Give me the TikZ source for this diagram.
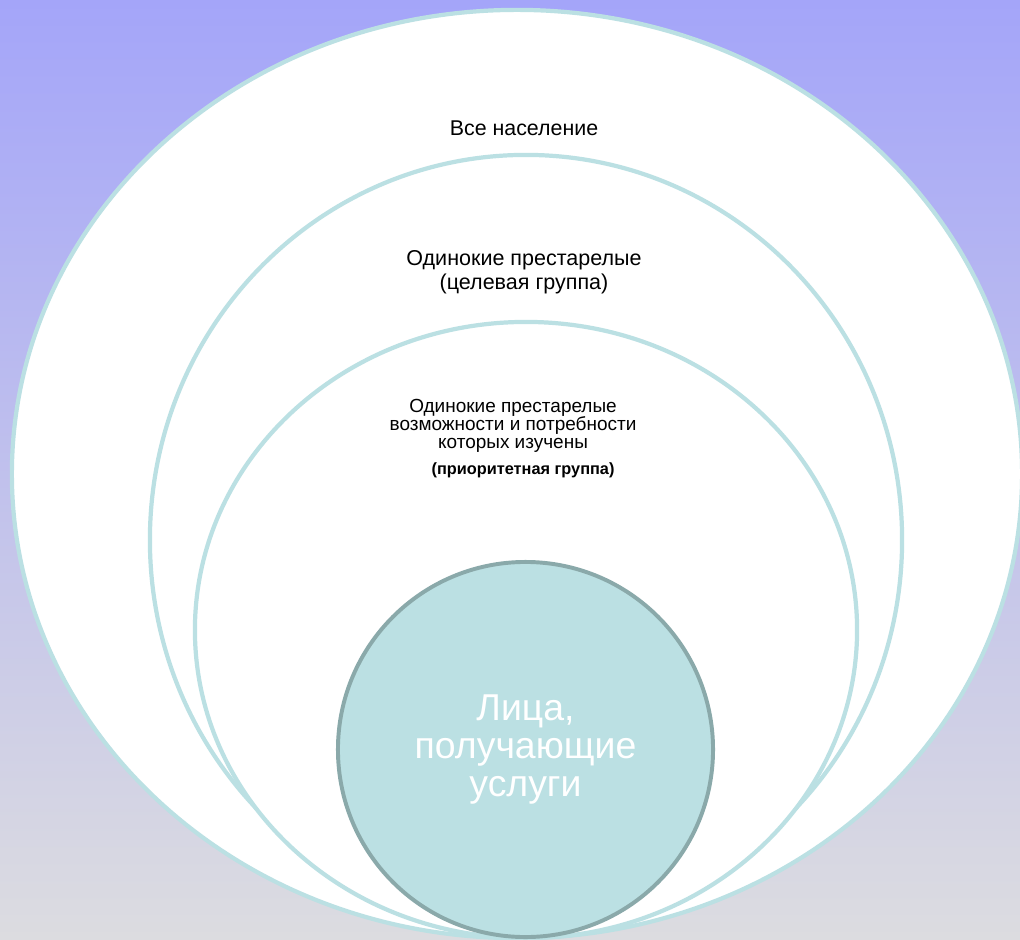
\documentclass[tikz,border=0pt]{standalone}
\usepackage{fontspec}
\setmainfont{Liberation Sans}
\usetikzlibrary{shapes.geometric}

\definecolor{ringcol}{RGB}{187,224,227}
\definecolor{coreedge}{RGB}{138,169,170}
\definecolor{bgtop}{RGB}{164,165,249}
\definecolor{bgmid}{RGB}{198,198,236}
\definecolor{bgbot}{RGB}{220,220,224}

\begin{document}
\begin{tikzpicture}[x=0.025cm, y=-0.025cm,
    ring/.style={ellipse, draw=ringcol, line width=3pt, fill=white, inner sep=0pt},
    core/.style={circle, draw=coreedge, line width=2.8pt, fill=ringcol, inner sep=0pt,
        text=white, align=center, font=\fontsize{26.6}{27}\selectfont},
    grouptext/.style={align=center, inner sep=0pt}
]

% background
\useasboundingbox (0,0) rectangle (1020,940);
\shade[top color=bgtop, middle color=bgmid, bottom color=bgbot] (0,0) rectangle (1020,940);

% (1)
\node[ring, minimum width=25.25cm, minimum height=23.2cm] (all) at (517,474) {};
\node[grouptext, font=\fontsize{15.2}{17}\selectfont] (alltext) at (524,128) {Все население};

% (2)
\node[ring, minimum width=18.8cm, minimum height=19.25cm] (target) at (526,540) {};
\node[grouptext, font=\fontsize{15.3}{17}\selectfont] (targettext) at (524,272)
    {Одинокие престарелые\\(целевая группа)};

% (3)
\node[ring, minimum width=16.55cm, minimum height=15.4cm] (prior) at (526,630) {};
\node[grouptext, font=\fontsize{13.5}{12.8}\selectfont] (priortext) at (513,426)
    {Одинокие престарелые\\возможности и потребности\\которых изучены};
\node[grouptext, font=\bfseries\fontsize{11.6}{12}\selectfont] (priorname) at (523,470)
    {(приоритетная группа)};

% (4)
\node[core, minimum size=9.375cm] (clients) at (525.5,749.5)
    {Лица,\\получающие\\услуги};

\end{tikzpicture}
\end{document}
